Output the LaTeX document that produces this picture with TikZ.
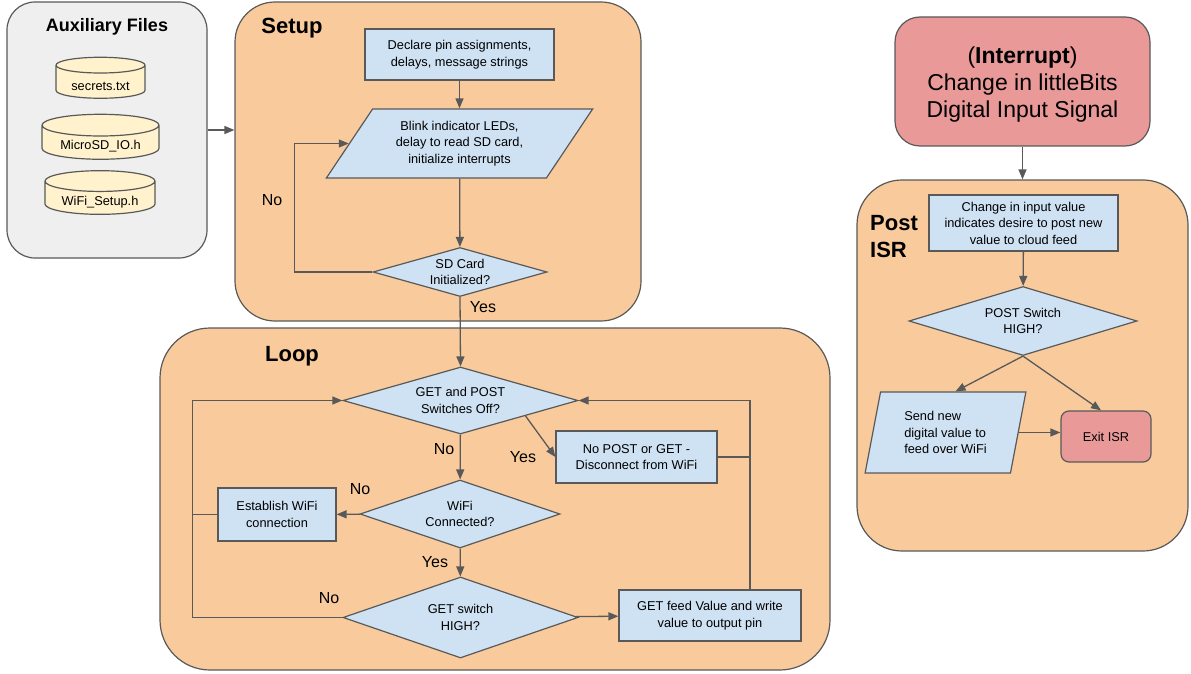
\documentclass[tikz,border=0pt]{standalone}
\usepackage{fontspec}
\setmainfont{Liberation Sans}
\usetikzlibrary{shapes.geometric,arrows.meta,calc}

\definecolor{edgegray}{HTML}{595959}
\definecolor{peach}{HTML}{F9CB9C}
\definecolor{panelgray}{HTML}{EFEFEF}
\definecolor{stepblue}{HTML}{CFE2F3}
\definecolor{fileyellow}{HTML}{FFF2CC}
\definecolor{alertred}{HTML}{EA9999}

\begin{document}
\begin{tikzpicture}[x=1pt,y=-1pt,
   every node/.style={font=\fontsize{12.8}{16.5}\selectfont},
   panel/.style={draw=edgegray,line width=1.2pt,rectangle,rounded corners=#1,inner sep=0pt},
   title/.style={font=\bfseries\fontsize{22}{27}\selectfont,align=left},
   process/.style={draw=edgegray,fill=stepblue,line width=1.2pt,rectangle,align=center,inner sep=0pt},
   io/.style={draw=edgegray,fill=stepblue,line width=1.2pt,trapezium,trapezium stretches=true,align=center,inner sep=0pt},
   decision/.style={draw=edgegray,fill=stepblue,line width=1.2pt,diamond,align=center,inner sep=-22pt},
   file/.style={draw=edgegray,fill=fileyellow,line width=1.2pt,cylinder,shape border rotate=90,aspect=0.27,inner sep=0pt},
   answer/.style={font=\fontsize{16}{19}\selectfont},
   conn/.style={draw=edgegray,line width=1.3pt},
   flow/.style={conn,-{Triangle[length=10pt,width=8pt]}}]
   \useasboundingbox (0,0) rectangle (1191,674);

   % auxiliary files
   \node [panel=28pt,fill=panelgray,minimum width=200pt,minimum height=256pt] (aux) at (107,130) {};
   \node [title,font=\bfseries\fontsize{18}{20}\selectfont] (auxtitle) at (107,27) {Auxiliary Files};
   \node [file,minimum width=89pt,minimum height=41pt] (secrets) at (100.5,82) {\raisebox{-4pt}[\height][\depth]{secrets.txt}};
   \node [file,minimum width=117pt,minimum height=43pt] (microsd) at (100.5,142.5) {\raisebox{-4pt}[\height][\depth]{MicroSD\_IO.h}};
   \node [file,minimum width=110pt,minimum height=42pt] (wifisetup) at (100,198) {\raisebox{-4pt}[\height][\depth]{WiFi\_Setup.h}};

   % setup
   \node [panel=40pt,fill=peach,minimum width=406pt,minimum height=319pt] (setup) at (438,161.5) {};
   \node [title] (setuptitle) at (292,28) {Setup};
   \node [process,minimum width=189pt,minimum height=51pt] (declare) at (459.5,54.5) {Declare pin assignments,\\delays, message strings};
   \node [io,trapezium left angle=53,trapezium right angle=127,minimum width=267pt,minimum height=69pt] (blink) at (459.5,143.5) {Blink indicator LEDs,\\delay to read SD card,\\initialize interrupts};
   \node [decision,minimum width=174pt,minimum height=49pt] (sdcard) at (460,272) {SD Card\\Initialized?};
   \draw [flow] (aux.east) -- (aux.east -| setup.west);
   \draw [flow] (declare) -- (blink);
   \draw [flow] (blink) -- (sdcard);
   \draw [flow] (sdcard.west) -- ++(-78,0) |- (blink.west);
   \node [answer] (sdno) at (272,200) {No};

   % loop
   \node [panel=50pt,fill=peach,minimum width=670pt,minimum height=342pt] (loop) at (495,499) {};
   \node [title] (looptitle) at (292,356) {Loop};
   \node [decision,minimum width=235pt,minimum height=67pt] (getpost) at (460.5,400.5) {GET and POST\\Switches Off?};
   \node [decision,minimum width=200pt,minimum height=68pt] (wifi) at (460,514) {WiFi\\Connected?};
   \node [decision,minimum width=235pt,minimum height=81pt] (getsw) at (460.5,617.5) {GET switch\\HIGH?};
   \node [process,minimum width=118pt,minimum height=53pt] (establish) at (277,514.5) {Establish WiFi\\connection};
   \node [process,minimum width=161pt,minimum height=52pt] (nopost) at (636.5,457) {No POST or GET -\\Disconnect from WiFi};
   \node [process,minimum width=182pt,minimum height=51pt] (getfeed) at (710,615.5) {GET feed Value and write\\value to output pin};
   \coordinate (back) at ([xshift=-25pt]establish.west);
   \coordinate (ret) at ([xshift=40pt]getfeed.north);
   \draw [flow] (sdcard.south) -- (getpost.north);
   \node [answer] (sdyes) at (483,307) {Yes};
   \draw [flow] (getpost) -- (wifi);
   \node [answer] (gpno) at (444,449) {No};
   \draw [flow] ($(getpost.east)!0.45!(getpost.south)$) -- (nopost.west);
   \node [answer] (gpyes) at (523,457) {Yes};
   \draw [flow] (wifi) -- (establish);
   \node [answer] (wfno) at (360,489) {No};
   \draw [flow] (wifi) -- (getsw);
   \node [answer] (wfyes) at (435,562) {Yes};
   \draw [flow] (getsw) -- (getfeed);
   \draw [flow] (establish.west) -- (back) |- (getpost.west);
   \draw [conn] (getsw.west) -| (back);
   \node [answer] (gsno) at (329,598) {No};
   \draw [flow] (ret) |- (getpost.east);
   \draw [conn] (nopost.east) -- (nopost.east -| ret);

   % interrupt
   \node [panel=25pt,fill=alertred,minimum width=255pt,minimum height=129pt,align=center,font=\fontsize{23}{27}\selectfont] (interrupt) at (1022.5,81.5) {\rule{0pt}{23pt}(\textbf{Interrupt})\\Change in littleBits\\Digital Input Signal};
   \node [panel=45pt,fill=peach,minimum width=331pt,minimum height=371pt] (isr) at (1022.5,365.5) {};
   \node [title] (isrtitle) at (894,237) {Post\\ISR};
   \node [process,minimum width=189pt,minimum height=56pt] (change) at (1023.5,223) {Change in input value\\indicates desire to post new\\value to cloud feed};
   \node [decision,minimum width=228pt,minimum height=69pt] (postsw) at (1023,321) {POST Switch\\HIGH?};
   \node [io,align=left,trapezium left angle=77,trapezium right angle=103,minimum width=161pt,minimum height=81pt] (send) at (945.5,432.5) {Send new\\digital value to\\feed over WiFi};
   \node [panel=8pt,fill=alertred,minimum width=90pt,minimum height=51pt] (exitisr) at (1106,436.5) {Exit ISR};
   \draw [flow] (interrupt) -- (isr);
   \draw [flow] (change) -- (postsw);
   \draw [flow] (postsw.south) -- ([xshift=10pt]send.north);
   \draw [flow] (postsw.south) -- ([xshift=-5pt]exitisr.north);
   \draw [flow] (send.east) -- (send.east -| exitisr.west);
\end{tikzpicture}
\end{document}
